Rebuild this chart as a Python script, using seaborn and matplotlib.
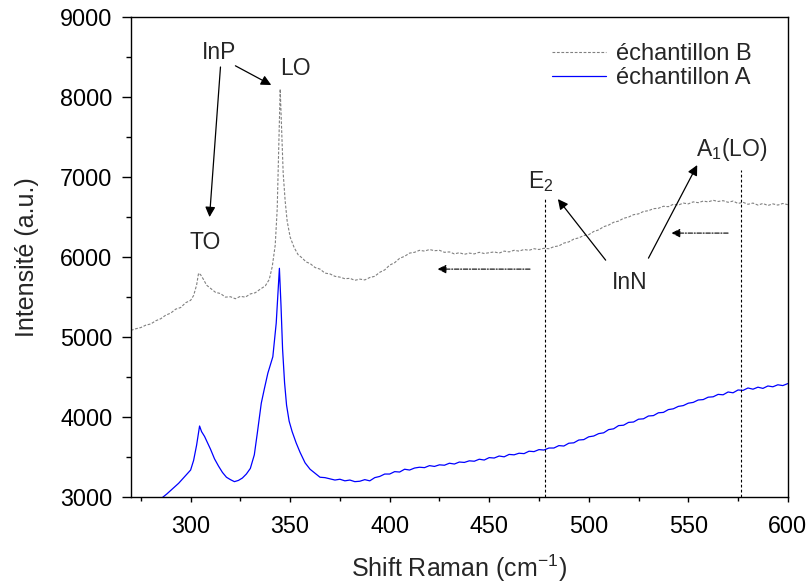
import pandas as pd
import matplotlib
matplotlib.use("Agg")
import matplotlib.pyplot as plt
from matplotlib.ticker import MultipleLocator
import seaborn as sns

#==========================================================================
# data (Raman spectra)
#==========================================================================
shift_b = [270, 272.5, 275, 277.5, 280, 282.5, 285, 287.5, 290, 292.5, 295, 297.5,
           300, 301.5, 303, 304, 305, 306.5, 308, 310, 312.5, 315, 317.5, 320,
           322.5, 325, 327.5, 330, 332.5, 335, 337.5, 339.5, 341, 342.5, 343.5,
           344.3, 345, 345.7, 346.5, 347.5, 348.5, 350, 352, 354, 356, 358, 360,
           362.5, 365, 367.5, 370, 372.5, 375, 377.5, 380, 382.5, 385, 387.5, 390,
           392.5, 395, 397.5, 400, 402.5, 405, 407.5, 410, 412.5, 415, 417.5, 420,
           422.5, 425, 427.5, 430, 432.5, 435, 437.5, 440, 442.5, 445, 447.5, 450,
           452.5, 455, 457.5, 460, 462.5, 465, 467.5, 470, 472.5, 475, 477.5, 480,
           482.5, 485, 487.5, 490, 492.5, 495, 497.5, 500, 502.5, 505, 507.5, 510,
           512.5, 515, 517.5, 520, 522.5, 525, 527.5, 530, 532.5, 535, 537.5, 540,
           542.5, 545, 547.5, 550, 552.5, 555, 557.5, 560, 562.5, 565, 567.5, 570,
           572.5, 575, 577.5, 580, 582.5, 585, 587.5, 590, 592.5, 595, 597.5, 600]
int_b = [5085, 5105, 5120, 5150, 5165, 5205, 5230, 5275, 5300, 5350, 5370, 5430,
         5460, 5520, 5650, 5800, 5780, 5720, 5650, 5610, 5560, 5545, 5500, 5505,
         5480, 5510, 5500, 5540, 5555, 5600, 5640, 5720, 5880, 6150, 6600,
         7400, 8100, 7600, 7050, 6700, 6450, 6250, 6120, 6030, 5990, 5940, 5920,
         5870, 5850, 5800, 5790, 5760, 5750, 5730, 5735, 5710, 5725, 5715, 5745,
         5760, 5810, 5840, 5900, 5930, 5985, 6010, 6050, 6060, 6085, 6075, 6095,
         6080, 6085, 6060, 6065, 6040, 6055, 6035, 6050, 6040, 6060, 6045, 6055,
         6065, 6050, 6075, 6065, 6085, 6075, 6095, 6085, 6105, 6095, 6110, 6105,
         6130, 6140, 6175, 6190, 6225, 6240, 6270, 6280, 6320, 6340, 6380, 6400,
         6435, 6450, 6485, 6500, 6530, 6540, 6570, 6580, 6605, 6610, 6635, 6630,
         6660, 6650, 6675, 6665, 6690, 6680, 6700, 6690, 6710, 6695, 6705, 6685,
         6700, 6670, 6685, 6660, 6675, 6650, 6670, 6645, 6665, 6650, 6670, 6655]

shift_a = [286, 288, 290, 292, 294, 296, 298, 300, 301.5, 303, 304.5, 305.5, 307,
           308.5, 310, 312, 314, 316, 318, 320, 322, 324, 326, 328, 330, 332,
           333.5, 335.5, 337, 338.8, 341.3, 343, 344.6, 345.4, 346.2, 347.2, 348.2,
           349.5, 351, 353, 355, 357.5, 360, 362.5, 365, 367.5, 370, 372.5, 375,
           377.5, 380, 382.5, 385, 387.5, 390, 392.5, 395, 397.5, 400, 402.5, 405,
           407.5, 410, 412.5, 415, 417.5, 420, 422.5, 425, 427.5, 430, 432.5, 435,
           437.5, 440, 442.5, 445, 447.5, 450, 452.5, 455, 457.5, 460, 462.5, 465,
           467.5, 470, 472.5, 475, 477.5, 480, 482.5, 485, 487.5, 490, 492.5, 495,
           497.5, 500, 502.5, 505, 507.5, 510, 512.5, 515, 517.5, 520, 522.5, 525,
           527.5, 530, 532.5, 535, 537.5, 540, 542.5, 545, 547.5, 550, 552.5, 555,
           557.5, 560, 562.5, 565, 567.5, 570, 572.5, 575, 577.5, 580, 582.5, 585,
           587.5, 590, 592.5, 595, 597.5, 600]
int_a = [3000, 3040, 3085, 3130, 3175, 3230, 3285, 3340, 3460, 3650, 3890, 3820, 3760,
         3680, 3600, 3480, 3390, 3310, 3250, 3220, 3195, 3210, 3240, 3290, 3360, 3530,
         3800, 4175, 4350, 4550, 4755, 5175, 5860, 5400, 4850, 4430, 4150,
         3950, 3820, 3680, 3560, 3430, 3350, 3300, 3250, 3245, 3230, 3215, 3225,
         3205, 3215, 3195, 3200, 3220, 3205, 3245, 3260, 3290, 3290, 3320, 3315,
         3350, 3340, 3365, 3375, 3370, 3395, 3385, 3405, 3400, 3425, 3415, 3440,
         3435, 3455, 3450, 3475, 3465, 3495, 3490, 3515, 3505, 3535, 3530, 3550,
         3545, 3575, 3570, 3595, 3590, 3615, 3615, 3645, 3640, 3675, 3680, 3715,
         3720, 3755, 3765, 3795, 3805, 3845, 3855, 3895, 3900, 3935, 3940, 3975,
         3980, 4015, 4020, 4055, 4060, 4095, 4105, 4135, 4145, 4175, 4185, 4215,
         4220, 4250, 4255, 4285, 4280, 4315, 4305, 4340, 4335, 4365, 4350, 4375,
         4360, 4390, 4380, 4405, 4395, 4420]

df_b = pd.DataFrame({"shift": shift_b, "intensity": int_b})
df_a = pd.DataFrame({"shift": shift_a, "intensity": int_a})

#==========================================================================
# style
#==========================================================================
sns.set_style("ticks")
plt.rcParams['font.family'] = ['Liberation Sans', 'DejaVu Sans']
plt.rcParams['mathtext.default'] = 'regular'

fig, ax = plt.subplots(figsize=(8.08, 5.85), dpi=100)
fig.subplots_adjust(left=0.162, right=0.975, top=0.971, bottom=0.150)

sns.lineplot(data=df_b, x="shift", y="intensity", ax=ax, color="#808080",
             linewidth=0.8, linestyle=(0, (2.5, 1.5)), label="échantillon B",
             errorbar=None, sort=False)
sns.lineplot(data=df_a, x="shift", y="intensity", ax=ax, color="#0000ff",
             linewidth=0.9, label="échantillon A", errorbar=None, sort=False)

ax.set_xlim(270, 600)
ax.set_ylim(3000, 9000)
ax.xaxis.set_major_locator(MultipleLocator(50))
ax.xaxis.set_minor_locator(MultipleLocator(25))
ax.yaxis.set_major_locator(MultipleLocator(1000))
ax.yaxis.set_minor_locator(MultipleLocator(500))
ax.tick_params(axis='both', which='both', width=1, colors='black', direction='out',
               labelsize=16.8)
ax.tick_params(axis='x', which='major', length=3.6, pad=9.5)
ax.tick_params(axis='x', which='minor', length=3.0)
ax.tick_params(axis='y', which='major', length=6.5, pad=6.8)
ax.tick_params(axis='y', which='minor', length=3.6)
for s in ax.spines.values():
    s.set_linewidth(1.0)
    s.set_color('black')

ax.set_xlabel("Shift Raman (cm$^{-1}$)", fontsize=18, labelpad=10)
ax.set_ylabel("Intensité (a.u.)", fontsize=18, labelpad=15)

# vertical markers for InN modes
ax.plot([478, 478], [3000, 6740], color='black', lw=0.8, ls=(0, (2.5, 2)))
ax.plot([576.5, 576.5], [3000, 7090], color='black', lw=0.8, ls=(0, (2.5, 2)))

# labels
txt = dict(fontsize=16.5, ha='center', va='center')
ax.text(314.5, 8560, "InP", **txt)
ax.text(352.5, 8360, "LO", **txt)
ax.text(307.5, 6180, "TO", **txt)
ax.text(476, 6940, "E$_2$", **txt)
ax.text(572, 7340, "A$_1$(LO)", **txt)
ax.text(520.5, 5680, "InN", **txt)

arrow = dict(arrowstyle='-|>', color='black', lw=0.9, mutation_scale=15,
             shrinkA=0, shrinkB=0)
ax.annotate("", xy=(309.5, 6500), xytext=(315, 8375), arrowprops=arrow)
ax.annotate("", xy=(340.5, 8150), xytext=(322.5, 8390), arrowprops=arrow)
ax.annotate("", xy=(484.5, 6725), xytext=(508.5, 5962), arrowprops=arrow)
ax.annotate("", xy=(554.5, 7150), xytext=(530, 5987), arrowprops=arrow)

dashdot = dict(arrowstyle='-|>', color='black', lw=0.8, mutation_scale=13,
               linestyle=(0, (4, 1.5, 1, 1.5)), shrinkA=0, shrinkB=0)
ax.annotate("", xy=(424, 5850), xytext=(470.5, 5850), arrowprops=dashdot)
ax.annotate("", xy=(541.5, 6300), xytext=(570, 6300), arrowprops=dashdot)

leg = ax.legend(loc='upper right', bbox_to_anchor=(0.984, 1.0), frameon=False,
                fontsize=17, handlelength=2.3, handletextpad=0.4,
                borderaxespad=0.7, labelspacing=0.1)

plt.savefig("out.png", dpi=100)
